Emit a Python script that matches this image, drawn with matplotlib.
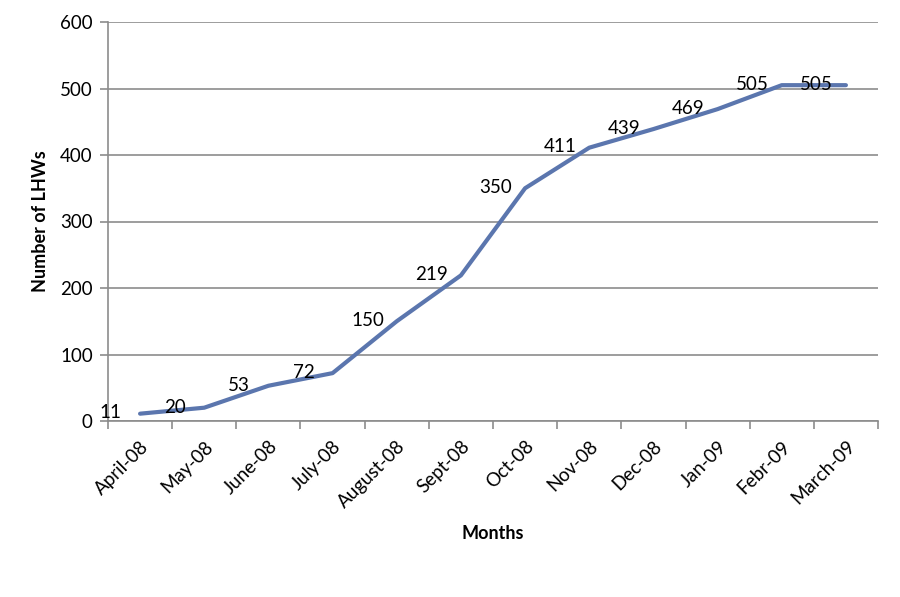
import numpy as np
import matplotlib.pyplot as plt
from matplotlib.ticker import FixedLocator

months = ['April-08', 'May-08', 'June-08', 'July-08', 'August-08', 'Sept-08',
          'Oct-08', 'Nov-08', 'Dec-08', 'Jan-09', 'Febr-09', 'March-09']
lhws = [11, 20, 53, 72, 150, 219, 350, 411, 439, 469, 505, 505]
y_ticks = [0, 100, 200, 300, 400, 500, 600]

plt.rcParams['font.family'] = ['Lato', 'DejaVu Sans']

fig = plt.figure(figsize=(9, 5.97), dpi=100)
ax = fig.add_axes([108 / 900, 176 / 597, 770 / 900, 399 / 597])

x = np.arange(len(months))
ax.plot(x, lhws, color='#5b76ae', lw=3, solid_capstyle='round', zorder=3)

# value labels sit left of each point
for xi, v in zip(x, lhws):
    ax.annotate(str(v), (xi, v), xytext=(-21, 0.5), textcoords='offset points',
                ha='center', va='center', fontsize=13.5, color='black', zorder=4)

ax.set_xlim(-0.5, len(months) - 0.5)
ax.set_ylim(0, 600)
ax.set_yticks(y_ticks)
ax.yaxis.grid(True, color='#8c8c8c', lw=1.2)
ax.set_axisbelow(True)

ax.set_xticks(x)
ax.set_xticklabels(months, rotation=45, ha='right', rotation_mode='anchor', fontsize=13.5)
ax.xaxis.set_minor_locator(FixedLocator(np.arange(-0.5, len(months), 1)))
ax.tick_params(axis='x', which='major', length=0, pad=12)
ax.tick_params(axis='x', which='minor', length=6, color='#8c8c8c', width=1.2)
ax.tick_params(axis='y', length=6, color='#8c8c8c', width=1.2, labelsize=13.5, pad=5)

for s in ['top', 'right']:
    ax.spines[s].set_visible(False)
for s in ['left', 'bottom']:
    ax.spines[s].set_color('#8c8c8c')
    ax.spines[s].set_linewidth(1.2)

ax.set_xlabel('Months', fontsize=13, fontweight='bold', labelpad=10)
ax.set_ylabel('Number of LHWs', fontsize=13, fontweight='bold', labelpad=8)

fig.savefig('out.png', dpi=100)
